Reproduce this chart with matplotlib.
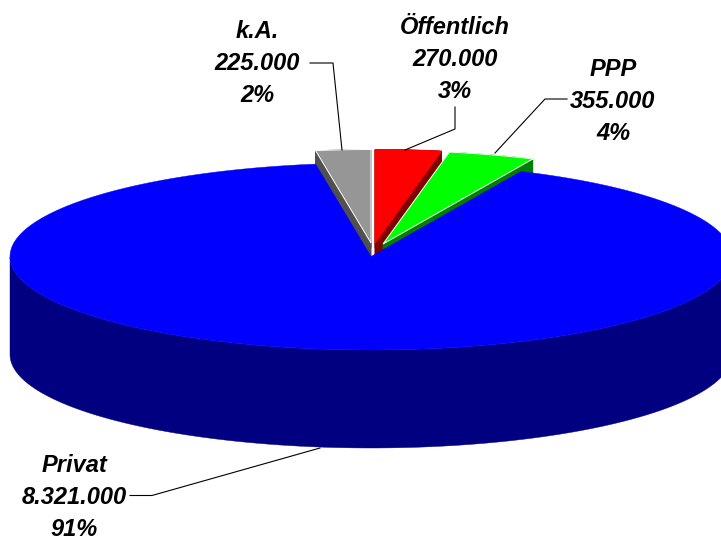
import numpy as np
import matplotlib
matplotlib.use('Agg')
import matplotlib.pyplot as plt
from matplotlib.patches import Polygon

# Data
names = ['Öffentlich', 'PPP', 'Privat', 'k.A.']
values = [270000, 355000, 8321000, 225000]
value_labels = ['270.000', '355.000', '8.321.000', '225.000']
percent_labels = ['3%', '4%', '91%', '2%']

top_colors = ['#ff0000', '#00ff00', '#0000ff', '#969696']
side_colors = ['#800000', '#008000', '#000080', '#505050']

# Pie geometry in pixels
cx, cy = 371, 256.5
rx, ry = 361, 93.5
depth = 98
apex = [(375, 243), (383, 244), (371, 256.5), (371, 243)]
label_pos = [(455, 59), (613, 101), (74, 498), (257, 64)]
leaders = [
    ([455, 455, 405], [107, 129, 150]),
    ([567, 545, 495], [99, 99, 153]),
    ([130, 152, 320], [495.5, 495.5, 448]),
    ([310, 333, 342], [63, 63, 150]),
]

fracs = np.array(values) / sum(values)
edges = np.concatenate([[0], np.cumsum(fracs)]) * 2 * np.pi


def wedge_xy(i):
    # angles run clockwise from twelve o'clock
    t = np.linspace(edges[i], edges[i + 1], 240)
    x = apex[i][0] + rx * np.sin(t)
    y = apex[i][1] - ry * np.cos(t)
    return np.column_stack([np.r_[apex[i][0], x], np.r_[apex[i][1], y]])


fig = plt.figure(figsize=(7.21, 5.41), dpi=100)
ax = fig.add_axes([0, 0, 1, 1])
ax.set_xlim(0, 721)
ax.set_ylim(541, 0)
ax.axis('off')

# Pulled out slices sit behind the big one
for i in [0, 1, 3]:
    xy = wedge_xy(i)
    for j in range(len(xy)):
        a = xy[j]
        b = xy[(j + 1) % len(xy)]
        face = [a, b, b + [0, depth], a + [0, depth]]
        ax.add_patch(Polygon(face, fc=side_colors[i], ec=side_colors[i], lw=0.3, zorder=2 + i))
    ax.add_patch(Polygon(xy, fc=top_colors[i], ec='white' if i != 0 else top_colors[i], lw=0.7, zorder=2.5 + i))

# Big slice: rim first, then the top
xy = wedge_xy(2)
t = np.linspace(0, 2 * np.pi, 400)
rim_x = cx + rx * np.sin(t)
rim_y = cy - ry * np.cos(t)
front = np.abs(t - np.pi) <= np.pi / 2
rim = np.r_[np.column_stack([rim_x[front], rim_y[front]]),
            np.column_stack([rim_x[front], rim_y[front] + depth])[::-1]]
ax.add_patch(Polygon(rim, fc=side_colors[2], ec=side_colors[2], lw=0.3, zorder=8))
ax.add_patch(Polygon(xy, fc=top_colors[2], ec=top_colors[2], lw=0.3, zorder=9))

# Labels and leader lines
for i in range(4):
    ax.text(label_pos[i][0], label_pos[i][1],
            names[i] + '\n' + value_labels[i] + '\n' + percent_labels[i],
            family='Liberation Sans', weight='bold', style='italic', fontsize=17,
            ha='center', va='center', linespacing=1.5, color='black', zorder=11)
    ax.plot(leaders[i][0], leaders[i][1], color='black', lw=0.8, zorder=10)

fig.savefig('out.png', dpi=100)
